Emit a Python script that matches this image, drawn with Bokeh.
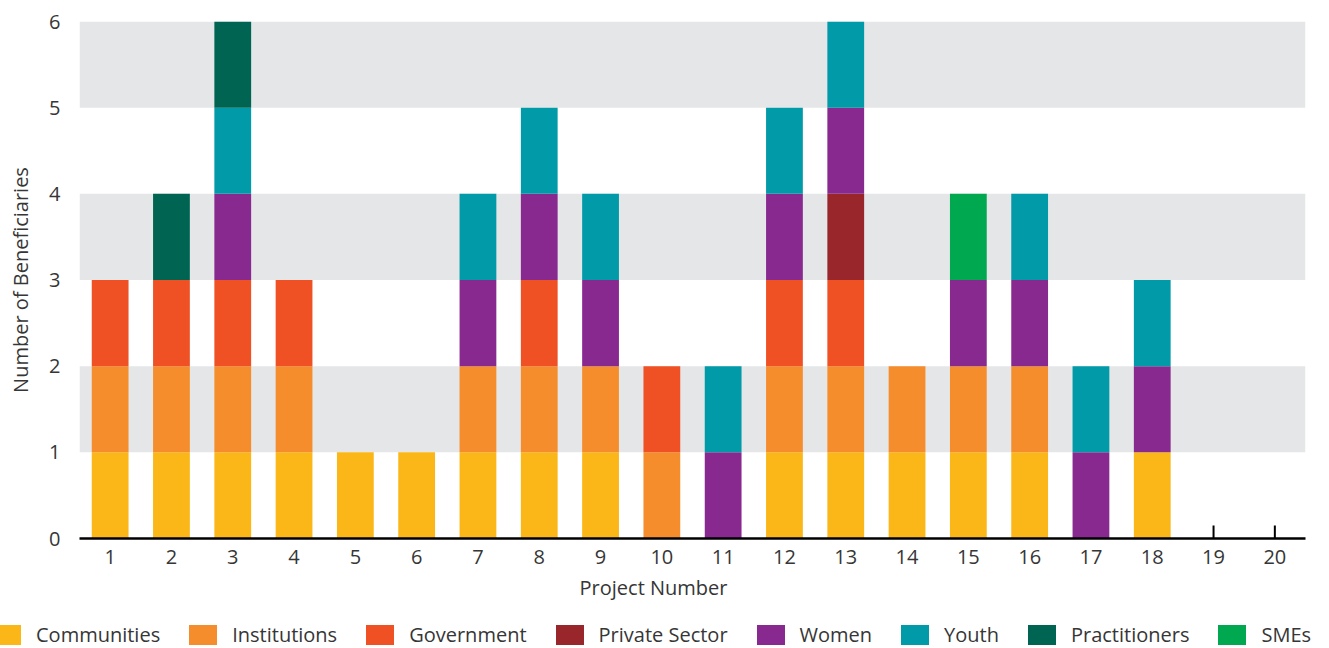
from bokeh.plotting import figure
from bokeh.layouts import column
from bokeh.models import Legend, LegendItem, BoxAnnotation, FixedTicker, Label, Range1d
from bokeh.embed import file_html
from bokeh.resources import INLINE

# Beneficiaries per project, one value per group
projects = [str(i) for i in range(1, 21)]
communities   = [1, 1, 1, 1, 1, 1, 1, 1, 1, 0, 0, 1, 1, 1, 1, 1, 0, 1, 0, 0]
institutions  = [1, 1, 1, 1, 0, 0, 1, 1, 1, 1, 0, 1, 1, 1, 1, 1, 0, 0, 0, 0]
government    = [1, 1, 1, 1, 0, 0, 0, 1, 0, 1, 0, 1, 1, 0, 0, 0, 0, 0, 0, 0]
private_sector = [0, 0, 0, 0, 0, 0, 0, 0, 0, 0, 0, 0, 1, 0, 0, 0, 0, 0, 0, 0]
women         = [0, 0, 1, 0, 0, 0, 1, 1, 1, 0, 1, 1, 1, 0, 1, 1, 1, 1, 0, 0]
youth         = [0, 0, 1, 0, 0, 0, 1, 1, 1, 0, 1, 1, 1, 0, 0, 1, 1, 1, 0, 0]
practitioners = [0, 1, 1, 0, 0, 0, 0, 0, 0, 0, 0, 0, 0, 0, 0, 0, 0, 0, 0, 0]
smes          = [0, 0, 0, 0, 0, 0, 0, 0, 0, 0, 0, 0, 0, 0, 1, 0, 0, 0, 0, 0]

groups = ["Communities", "Institutions", "Government", "Private Sector",
          "Women", "Youth", "Practitioners", "SMEs"]
keys = ["communities", "institutions", "government", "private_sector",
        "women", "youth", "practitioners", "smes"]
colors = ["#FBB617", "#F68D2D", "#EF5024", "#98262B",
          "#87298F", "#009AA8", "#006452", "#00A94F"]
y_ticks = [0, 1, 2, 3, 4, 5, 6]
band_ranges = [(1, 2), (3, 4), (5, 6)]

FONT = "Open Sans"
TEXT = "#363636"
FS = "20px"
W = 1329

data = dict(project=projects, communities=communities, institutions=institutions,
            government=government, private_sector=private_sector, women=women,
            youth=youth, practitioners=practitioners, smes=smes)

# ---- main chart -------------------------------------------------------------
p = figure(x_range=projects, y_range=(0, 6), width=W, height=575,
           output_backend="svg", toolbar_location=None,
           min_border_left=79, min_border_right=24, min_border_top=21,
           min_border_bottom=37)
p.outline_line_color = None
p.xgrid.grid_line_color = None
p.ygrid.grid_line_color = None

# alternating grey bands behind the bars
for lo, hi in band_ranges:
    p.add_layout(BoxAnnotation(bottom=lo, top=hi, fill_color="#E5E6E8",
                               fill_alpha=1, line_color=None, level="image"))

# short inward ticks at each project, drawn first so bars cover them
p.segment(x0=projects, y0=[0] * len(projects), x1=projects,
          y1=[0.15] * len(projects), line_color="#000000", line_width=2)

p.vbar_stack(keys, x="project", width=0.6, color=colors,
             line_color=None, source=data)

# y axis: labels only
p.yaxis.ticker = FixedTicker(ticks=y_ticks)
p.yaxis.axis_line_color = None
p.yaxis.major_tick_line_color = None
p.yaxis.minor_tick_line_color = None
p.yaxis.major_label_standoff = 13
p.yaxis.major_label_text_font = FONT
p.yaxis.major_label_text_font_size = FS
p.yaxis.major_label_text_color = TEXT
p.yaxis.axis_label = "Number of Beneficiaries"
p.yaxis.axis_label_text_font = FONT
p.yaxis.axis_label_text_font_size = FS
p.yaxis.axis_label_text_font_style = "normal"
p.yaxis.axis_label_text_color = TEXT
p.yaxis.axis_label_standoff = 12

# x axis: heavy baseline
p.xaxis.axis_line_color = "#000000"
p.xaxis.axis_line_width = 2.5
p.xaxis.major_tick_line_color = None
p.xaxis.major_tick_in = 0
p.xaxis.major_tick_out = 0
p.xaxis.major_label_standoff = 11
p.xaxis.major_label_text_font = FONT
p.xaxis.major_label_text_font_size = FS
p.xaxis.major_label_text_color = TEXT

# ---- axis title and legend strip -------------------------------------------
H2 = 73
q = figure(width=W, height=H2, x_range=Range1d(0, W), y_range=Range1d(0, H2),
           output_backend="svg", toolbar_location=None,
           min_border=0, min_border_left=0, min_border_right=0,
           min_border_top=0, min_border_bottom=0)
q.axis.visible = False
q.grid.visible = False
q.outline_line_color = None

q.add_layout(Label(text="Project Number", x=653, y=61, text_align="center",
                   text_baseline="middle", text_font=FONT, text_font_size=FS,
                   text_color=TEXT))

# zero-size swatch renderers that only feed the legend
swatches = [q.quad(left=[0], right=[0], top=[0], bottom=[0], fill_color=c, line_color=None)
            for c in colors]
legend = Legend(items=[LegendItem(label=g, renderers=[r]) for g, r in zip(groups, swatches)],
                orientation="horizontal", location=(-11, 0),
                glyph_width=35, glyph_height=25, label_standoff=12, spacing=25,
                padding=0, margin=0, border_line_color=None, background_fill_alpha=0,
                label_text_font=FONT, label_text_font_size=FS, label_text_color=TEXT)
q.add_layout(legend, "center")

layout = column(p, column(q))
open("out.html", "w").write(file_html(layout, INLINE))
